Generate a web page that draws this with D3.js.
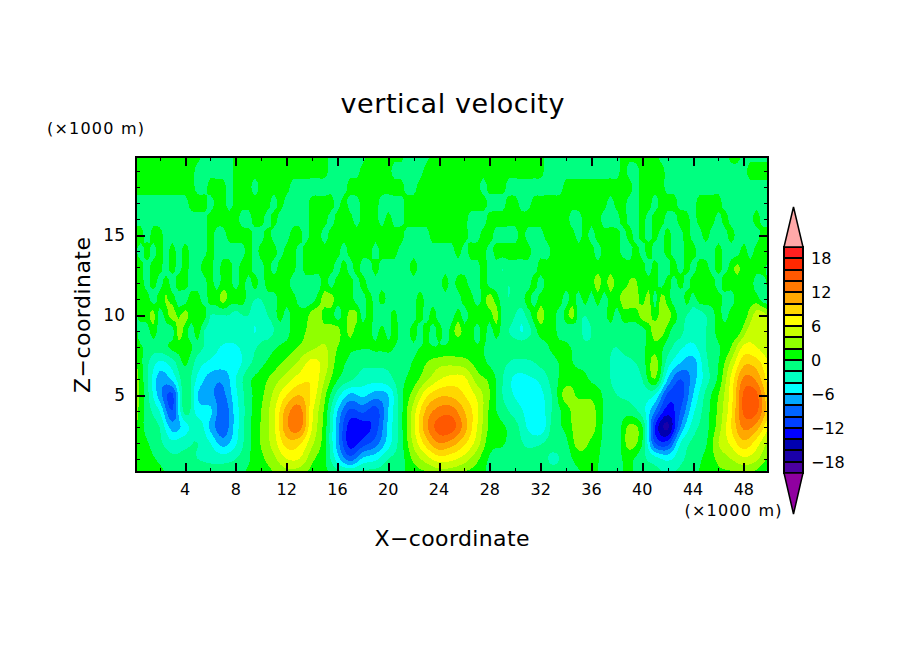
<!DOCTYPE html>
<html><head><meta charset="utf-8">
<script src="https://cdn.jsdelivr.net/npm/d3@7"></script>
<style>html,body{margin:0;padding:0;background:#fff}svg{display:block}text{font-family:"DejaVu Sans";fill:#000}</style>
</head><body><svg id="c" width="904" height="654"></svg>
<script>
const titleText="vertical velocity", xTitle="X\u2212coordinate", zTitle="Z\u2212coordinate", unitText="(\u00d71000 m)";
const xMajor=[4,8,12,16,20,24,28,32,36,40,44,48];
const xMinor=[2,6,10,14,18,22,26,30,34,38,42,46];
const zMajor=[5,10,15];
const zMinor=[1,2,3,4,6,7,8,9,11,12,13,14,16,17,18,19];
const barLabels=[18,12,6,0,-6,-12,-18];
const levels=[-20,-18,-16,-14,-12,-10,-8,-6,-4,-2,0,2,4,6,8,10,12,14,16,18,20];
const colors=["#9000a0","#4b00a0","#1a00a8","#0000b0","#0000ff","#0040ff","#0064ff","#00a8ff","#00ffff","#00ffc0","#00ff80","#00ff00","#90ff00","#c8ff00","#ffff00","#ffd800","#ffa800","#ff7800","#ff5800","#ff2800","#ff2020","#ffa8a8"];
// w, one row per height z = 0..20 km.
// Rows z00-z08 hold x = 0..50 km every 1 km; rows z09-z20 hold x = 0..50 km every 0.5 km.
const z00=[.5,.5,.5,-.7,-.7,-.7,-.8,-.8,-.3,.3,.8,1.8,3,2.5,1.2,.5,-.8,-1,-1,-.8,-.7,-.3,.8,1.5,2.5,2.5,1.5,.8,-.5,-.8,-.8,-.8,-.8,-.8,-.8,-.3,.3,-.5,-.5,.3,-1,-1.5,-1.8,-1.5,-.3,.5,1.5,1.5,2,1,-1];
const z01=[.8,.5,-.3,-1.5,-1.5,-2,-2.5,-2.8,-2,-.2,1.5,3.5,6,6,2.5,.3,-5,-9,-5.5,-4.5,-2,-.8,2.5,5,7,6.5,5,2.5,-.3,-.8,-1,-1.2,-1,-2.5,-1,.8,.8,-.5,-.5,.5,-1.5,-3,-4.5,-2.5,-1,.5,2.5,4,5.5,4.5,1.5];
const z02=[1.5,.2,-1.5,-3.5,-2.5,-2,-4,-7,-4.3,-.5,2.2,5,9,8.5,4.5,.7,-7,-13,-11,-9,-5,-.8,4.5,9,12,11,8.5,5,.8,.2,-1,-2.5,-2.2,-1,-.5,3,1.5,-.4,-1.2,3,0,-10,-11,-4,-1.5,-.3,4,6.5,9.5,7,3.5];
const z03=[2.5,-.8,-2,-7,-5,-2.5,-6.5,-9.5,-5,-.6,2.2,5.5,11.5,13,6,1,-7,-13,-13,-11,-5.5,-.7,5.5,11.5,15,15,11,6,1.5,.3,-1.2,-4.3,-5.5,-1,.5,3.5,3,-.4,-1.2,2.5,.2,-12,-16.5,-8,-3,-.8,3,8,12.5,11,6];
const z04=[3,-1,-4,-10,-1,-5,-5.5,-9.5,-5,-.8,2,5.5,11,13,6.5,1.5,-6,-10.5,-9.5,-11,-6,-.7,5,10.5,12.8,13,10,6.5,1.5,-1,-3,-4.5,-5,-1.5,1,3.5,3,-.3,-1,-1,-3,-8,-13,-10,-4.5,-1,2.5,7.5,14.5,14.5,8.5];
const z05=[3.5,-1.2,-7,-10.5,-.3,-6,-7.5,-8.5,-4.5,-.8,1.5,4.5,8,10,7.5,2.5,-3,-6.5,-5.5,-7,-6,-.6,3,7.5,9.6,9.5,8,5.5,2,-2,-4.2,-4.5,-4.5,-1.5,3,1.5,1.5,-.3,-2,-2.5,-3,-4,-10.5,-11,-6,-1.5,2,7,14.5,14.5,8];
const z06=[3.2,-1.5,-7,-5.5,-.8,-4.5,-7,-7.5,-4,-.5,1,3,5,7,7.7,4,.2,-1.5,-3,-3.2,-2.7,-.6,1,3.5,5.8,6.8,6.5,3,1.5,-1.9,-4.5,-4.3,-3.5,-.9,1,1,-.3,-1,-3,-3.5,-2,2,-6,-10,-7,-3,.5,6.5,12.5,11.5,7];
const z07=[2.5,-1.5,-4.5,-3,.3,-3,-4.5,-5,-5,-2.5,-.5,1,2.7,4.5,6.8,5,1.2,-.5,-1.5,-1.5,-1.5,-.8,.2,2,3.3,3.5,3,1.2,-.3,-1.5,-2.5,-2.5,-1.5,-.5,.5,-.5,-.5,-1.5,-2.5,-2.5,-1,2.8,-3,-6,-7,-2.5,0,4.5,9.5,9,6];
const z08=[1,-.5,-1,.5,1,-1,-3,-4.2,-4.2,-3,-1.5,-.3,.8,2.2,3.5,4.2,2,.5,.2,.3,.5,-.5,-.3,.2,0,.5,.5,.3,-.3,-1,-1,-.5,-1,.5,.5,-1,-1.5,-1.5,-2,-1,-.5,1.5,-1,-3.5,-4.5,-2,-.3,2,6.5,6,4.5];
const z09=[1,-1,-1,1,-1,-1,-1,3,1,-1, 1,-2,-3,-3,-3,-3,-3,-3,-3,-4.2, -3,-3,-2,-1,-1,1,1,2,3,3, 3,3,3,1,3,1,1,1,-1,1, -1,1,-1,-1,1,-1,1,-1,1,-1, 1,3,1,1,-1,1,-1,1,-1,-2, -3,-4.2,-3,-1,1,1,1,-1,-1,-2, -1,-3,-2,-2,-1,-1,-1,-1,-1,-1, -1,1,3,3,1,-1,-1,-3,-3,-3, -2,-1,1,1,1,1,3,5,5,5,4];
const z10=[-1,1,1,3,-1,1,3,1.5,3,1, 1,1,-2,-2,-2,-2,-3,-2,-2,-3, -3,-2,-1,1,-1,1,1,1,3,3, 1,1,-1,1,2.5,2.5,-1,1,-1,-2, -1,1,-2,-1,-1,1,-1,1,-1,-1, -1,1,-1,1,1,1,1,3,-1,-1, -2,-3,-1,1,3,1,1,-1,1,3, -1,-2,-1,-1,-1,1,-1,1,1,1, 3,3,1,3,3,1,-1,-2,-3,-3, -2,-1,1,-1,1,1,1,3,5,5,3];
const z11=[1,1,1,-1,1,2.2,1,-1,-1,1, 1,-1,1,1,3,1,1,1,-1,-2, -2,-1,-1,1,1,1,-1,-1,-1,1, 3,3,1,1,1,-1,-1,1,-1,1, -1,-2,-1,-1,-1,1,-1,-1,-1,-1, -1,-1,1,1,-1,1,3,1,-1,-2, -1,-1,1,-1,1,1,1,1,-1,1, -1,1,-1,1,-1,1,1,3,3,3, 1,3,-1,3,1,-1,-2,1,-1,1, 1,1,1,-1,-1,1,1,1,1,-1,-1];
const z12=[-1,1,-1,1,-1,1,-1,1,1,-1, -1,-1,1,-1,1,1,-1,1,-1,1, -1,1,1,1,1,-1,-1,-1,-1,-1, 1,-1,1,1,1,-1,1,-1,-1,-1, -1,-1,-1,-1,-1,-1,-1,-1,-1,1, -1,1,1,-1,-1,1,-1,-1,-1,-2, -1,-1,-1,1,-1,1,1,1,1,1, 1,1,1,3,1,3,1,1,2.2,2.2, 1,1,1,-1,1,-1,1,-1,1,1, 1,1,-1,1,1,1,1,1,-1,-1,1];
const z13=[1,1,-1,1,1,-1,1,-1,1,-1, -1,1,1,-1,1,1,-1,1,1,-1, -1,1,-1,1,1.5,1,-1,1,1,1, 1,1,-1,1,-1,1,-1,-1,1,-1, -1,-1,-1,-1,1,-1,-1,-1,-1,-1, -1,-1,-1,-1,-1,1,-1,-1,-2,-1, -1,-1,-1,-1,1,1,1,1,1,1, 1,1,1,1,1,1,1,1.5,1,1.5, 1,-1,1,-1,-1,1,-1,1,-1,1, 1,-1,1,-1,1,2.5,1,1,1,1,-1];
const z14=[1,-1,1,-1,1,-1,1,-1,1,-1, -2,-1,1,-1,-1,-1,-1,-1,1,-1, 1,1,1,-1,1,1,-1,1,1,1, 1,1,1,-1,1,1,1,1,-1,1, 1,1,-1,-1,-1,-1,-1,-1,-1,-1, -1,1,-1,1,1,1,-1,1,1,1, 1,1,1,-1,-1,-1,1,1,1,1, 1,1,1,-1,1,1,1,-1,-1,1, -1,1,-1,-1,1,-1,-1,1,1,-1, -1,-1,1,-1,-1,-1,1,-1,1,1,1];
const z15=[1,1,-1,1,1,-1,-1,-1,-1,-1, -1,-1,1,-1,-1,1,1,1,1,-1, -1,1,-1,-1,-1,1,1,-1,1,1, -1,1,1,1,1,1,1,1,1,1, 1,1,1,-1,-1,-1,-1,1,1,1, 1,1,1,-1,-1,1,1,-1,-1,-1, -1,1,-1,-1,-1,1,1,1,1,1, -1,1,-1,1,1,1,1,-1,1,-1, 1,-1,1,-1,1,-1,-1,1,-1,-1, 1,-1,-1,-1,1,-1,-1,-1,-1,1,1];
const z16=[-1,-1,-1,-1,-1,-1,-1,-1,-1,-1, -1,-1,1,1,1,1,1,-1,-1,1, 1,-1,1,-1,-1,-1,-1,-1,1,1, 1,-1,1,1,1,-1,1,1,1,-1, 1,-1,-1,1,1,1,1,1,1,1, 1,1,1,-1,-1,-1,1,1,1,1, 1,1,1,1,1,1,1,1,1,-1, -1,1,1,1,-1,-1,-1,1,-1,-1, 1,-1,1,1,-1,-1,1,1,-1,1, 1,1,-1,1,-1,-1,-1,-1,1,-1,-1];
const z17=[-1,-1,-1,-1,-1,-1,-1,-1,-1,1, 1,1,-1,1,1,-1,1,1,1,1, 1,1,-1,1,-1,-1,-1,-1,1,1, 1,1,-1,1,-1,-1,1,1,1,-1, -1,-1,-1,1,1,1,1,1,1,1, 1,1,1,1,1,1,-1,-1,-1,1, 1,-1,-1,1,1,1,1,1,1,1, 1,1,1,1,1,-1,1,1,-1,-1, 1,1,-1,1,1,1,-1,-1,-1,1, 1,1,1,-1,-1,-1,-1,-1,-1,-1,-1];
const z18=[1,1,1,1,1,1,1,1,1,1, -1,-1,1,1,1,-1,1,1,1,-1, 1,1,1,1,1,-1,-1,-1,-1,-1, -1,-1,-1,-1,1,1,1,1,1,1, 1,1,1,-1,-1,1,1,1,1,1, 1,1,1,1,1,-1,1,1,1,-1, -1,-1,-1,-1,-1,-1,-1,-1,1,1, 1,1,1,1,1,1,1,1,1,-1, 1,1,1,1,-1,-1,-1,-1,-1,-1, -1,-1,-1,-1,-1,-1,-1,-1,-1,-1,-1];
const z19=[1,1,1,1,1,1,1,1,1,1, -1,-1,-1,-1,-1,-1,1,1,1,1, 1,1,1,1,1,1,1,1,1,1, 1,-1,-1,-1,-1,-1,1,1,1,1, 1,-1,-1,-1,-1,-1,1,1,1,1, 1,1,1,1,1,1,1,1,1,1, 1,1,1,1,1,-1,-1,-1,-1,-1, -1,-1,-1,-1,-1,-1,-1,1,-1,-1, 1,1,1,1,-1,-1,-1,-1,-1,-1, -1,-1,-1,-1,-1,-1,-1,1,1,1,1];
const z20=[1,1,1,1,1,1,1,1,1,1, 1,-1,-1,-1,-1,-1,1,1,1,1, 1,1,1,1,1,1,1,1,1,1, 1,-1,-1,-1,-1,-1,-1,1,1,1, 1,1,1,-1,-1,-1,-1,1,1,1, 1,1,1,1,1,1,1,1,1,1, 1,1,1,1,1,-1,-1,-1,-1,-1, -1,-1,-1,-1,-1,-1,-1,1,1,1, 1,1,1,-1,-1,-1,-1,-1,-1,-1, -1,-1,-1,-1,1,1,-1,-1,-1,-1,-1];
const rows=[z00,z01,z02,z03,z04,z05,z06,z07,z08,z09,z10,z11,z12,z13,z14,z15,z16,z17,z18,z19,z20];

const L=136,R=768,T=157,B=472;
const x=d3.scaleLinear().domain([0.14,49.9]).range([L,R]);
const z=d3.scaleLinear().domain([0.19,19.88]).range([B,T]);
const svg=d3.select("#c");

// contouring step: smooth cubic evaluation of the read values on a fine drawing mesh
const step=0.25, nx=201, nz=81;
function cubic(a,t){ // t in index units
  const n=a.length, i=Math.min(n-2,Math.max(0,Math.floor(t))), f=t-i;
  const p0=a[Math.max(0,i-1)],p1=a[i],p2=a[i+1],p3=a[Math.min(n-1,i+2)];
  return p1+.5*f*(p2-p0+f*(2*p0-5*p1+4*p2-p3+f*(3*(p1-p2)+p3-p0)));
}
const byRow=rows.map(r=>d3.range(nx).map(i=>cubic(r,i*step*(r.length-1)/50)));
const mesh=[];
for(let j=0;j<nz;j++){const col=j*step;for(let i=0;i<nx;i++){mesh.push(cubic(byRow.map(r=>r[i]),col));}}

svg.append("clipPath").attr("id","pc").append("rect").attr("x",L).attr("y",T).attr("width",R-L).attr("height",B-T);
const g=svg.append("g").attr("clip-path","url(#pc)").attr("shape-rendering","crispEdges");
g.append("rect").attr("x",L).attr("y",T).attr("width",R-L).attr("height",B-T).attr("fill",colors[0]);
const cs=d3.contours().size([nx,nz]).thresholds(levels)(mesh);
const path=d3.geoPath(d3.geoTransform({point(a,b){this.stream.point(x((a-.5)*step),z((b-.5)*step));}}));
g.selectAll("path").data(cs).join("path").attr("d",path).attr("fill",(d,i)=>colors[i+1]);

function ax(gen,tx,ty){const s=svg.append("g").attr("transform",`translate(${tx},${ty})`).call(gen);s.select(".domain").remove();return s;}
function style(s,w){s.selectAll("line").attr("stroke","#000").attr("stroke-width",w).attr("shape-rendering","crispEdges");s.selectAll("text").remove();}
[[d3.axisBottom(x),0,B],[d3.axisTop(x),0,T]].forEach(([a,tx,ty])=>{style(ax(a.tickValues(xMinor).tickSize(-4),tx,ty),1);});
[[d3.axisBottom(x),0,B],[d3.axisTop(x),0,T]].forEach(([a,tx,ty])=>{style(ax(a.tickValues(xMajor).tickSize(-9),tx,ty),2);});
[[d3.axisLeft(z),L,0],[d3.axisRight(z),R,0]].forEach(([a,tx,ty])=>{style(ax(a.tickValues(zMinor).tickSize(-4),tx,ty),1);});
[[d3.axisLeft(z),L,0],[d3.axisRight(z),R,0]].forEach(([a,tx,ty])=>{style(ax(a.tickValues(zMajor).tickSize(-9),tx,ty),2);});
svg.append("rect").attr("x",L).attr("y",T).attr("width",R-L).attr("height",B-T).attr("fill","none").attr("stroke","#000").attr("stroke-width",2).attr("shape-rendering","crispEdges");

const lab=(t,px,py,fs,w,an="middle",rot=null)=>{
  const e=svg.append("text").attr("x",px).attr("y",py).attr("font-size",fs).attr("text-anchor",an).text(t);
  if(w){e.attr("textLength",w).attr("lengthAdjust","spacing");}
  if(rot!==null)e.attr("transform",`rotate(${rot} ${px} ${py})`);
  return e;
};
xMajor.forEach(v=>lab(v,x(v),495,16));
zMajor.forEach(v=>lab(v,125,z(v)+6,17,null,"end"));
lab(titleText,452.5,113,27,224);
lab(xTitle,452,546,22,155);
lab(zTitle,90,315,22,156,"middle",-90);
lab(unitText,95.5,134,16,97);
lab(unitText,733,516,16,97);

// colour bar
const by=d3.scaleLinear().domain([-20,20]).range([473,247]);
const bL=784,bR=803,bM=793.5;
const bar=svg.append("g");
const bands=d3.pairs(levels);
bar.selectAll("rect").data(bands).join("rect").attr("x",bL).attr("width",bR-bL)
  .attr("y",d=>by(d[1])).attr("height",d=>by(d[0])-by(d[1]))
  .attr("fill",(d,i)=>colors[i+1]).attr("stroke","#000").attr("stroke-width",2).attr("shape-rendering","crispEdges");
bar.append("path").attr("d",`M${bL},${by(20)}L${bM},207L${bR},${by(20)}Z`).attr("fill",colors[21]).attr("stroke","#000").attr("stroke-width",1.5);
bar.append("path").attr("d",`M${bL},${by(-20)}L${bM},514L${bR},${by(-20)}Z`).attr("fill",colors[0]).attr("stroke","#000").attr("stroke-width",1.5);
barLabels.forEach(v=>lab(String(v).replace("-","\u2212"),811,by(v)+6,16,null,"start"));
</script></body></html>
